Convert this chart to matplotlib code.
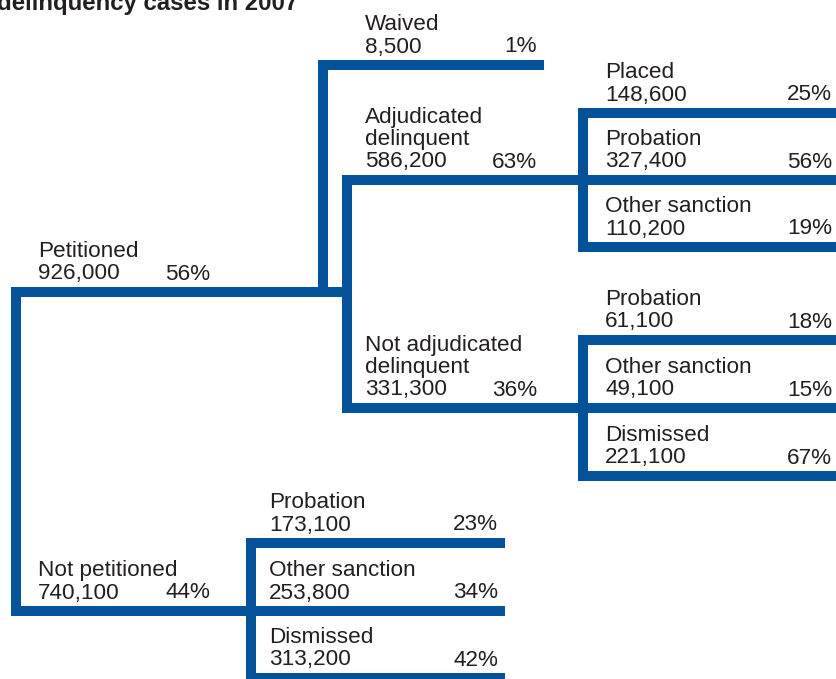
import matplotlib
matplotlib.use("Agg")
import matplotlib.pyplot as plt
from matplotlib.patches import Rectangle

plt.rcParams['font.family'] = ['Liberation Sans', 'DejaVu Sans']

# Data: case flow of juvenile delinquency cases, 2007
names = ["Petitioned", "Not petitioned",
         "Waived", "Adjudicated\ndelinquent", "Not adjudicated\ndelinquent",
         "Placed", "Probation", "Other sanction",
         "Probation", "Other sanction", "Dismissed",
         "Probation", "Other sanction", "Dismissed"]
counts = [926000, 740100,
          8500, 586200, 331300,
          148600, 327400, 110200,
          61100, 49100, 221100,
          173100, 253800, 313200]
pcts = [56, 44,
        1, 63, 36,
        25, 56, 19,
        18, 15, 67,
        23, 34, 42]

# Layout (pixel coords): branch line y, text left x, percent right x
line_y = [292, 611,
          65, 180, 408,
          113, 180, 247,
          340, 408, 476,
          543, 611, 678]
text_x = [38, 38,
          365, 365, 365,
          605, 605, 605,
          605, 605, 605,
          269, 269, 269]
pct_x = [210, 210,
         537, 537, 537,
         832, 832, 832,
         832, 832, 832,
         498, 498, 498]

BLUE = "#03529A"
TXT = "#231F20"
LW = 10.5
FS = 16.2

W, H = 836, 679
fig = plt.figure(figsize=(W / 100, H / 100), dpi=100)
ax = fig.add_axes([0, 0, 1, 1])
ax.set_xlim(0, W)
ax.set_ylim(H, 0)
ax.axis('off')


def hseg(x0, x1, y):
    ax.add_patch(Rectangle((x0, y - LW / 2), x1 - x0, LW,
                           facecolor=BLUE, edgecolor='none'))


def vseg(x, y0, y1):
    ax.add_patch(Rectangle((x - LW / 2, y0), LW, y1 - y0,
                           facecolor=BLUE, edgecolor='none'))


# tree connectors
vseg(16, line_y[0] - LW / 2, line_y[1] + LW / 2)
hseg(11, 352, line_y[0])
hseg(11, 505, line_y[1])

vseg(323, line_y[2] - LW / 2, line_y[0] + LW / 2)
hseg(318, 544, line_y[2])
vseg(347, line_y[3] - LW / 2, line_y[4] + LW / 2)
hseg(342, W, line_y[3])
hseg(342, W, line_y[4])

vseg(583, line_y[5] - LW / 2, line_y[7] + LW / 2)
hseg(578, W, line_y[5])
hseg(578, W, line_y[7])

vseg(583, line_y[8] - LW / 2, line_y[10] + LW / 2)
hseg(578, W, line_y[8])
hseg(578, W, line_y[10])

vseg(251, line_y[11] - LW / 2, H + 5)
hseg(246, 505, line_y[11])
hseg(246, 505, line_y[13])

# labels
for name, cnt, pct, y, x, px in zip(names, counts, pcts, line_y, text_x, pct_x):
    base = y - 12.5
    ax.text(x, base, f"{cnt:,}", fontsize=FS, color=TXT, va='baseline', ha='left')
    ax.text(px, base, f"{pct}%", fontsize=FS, color=TXT, va='baseline', ha='right')
    for i, ln in enumerate(reversed(name.split("\n"))):
        ax.text(x, base - 22.5 * (i + 1), ln, fontsize=FS, color=TXT,
                va='baseline', ha='left')

# title (partly cut off at top of image, as in the source)
ax.text(-3, 10, "delinquency cases in 2007", fontsize=17.3, fontweight='bold',
        color=TXT, va='baseline', ha='left')

fig.savefig("out.png", dpi=100, facecolor='white')
